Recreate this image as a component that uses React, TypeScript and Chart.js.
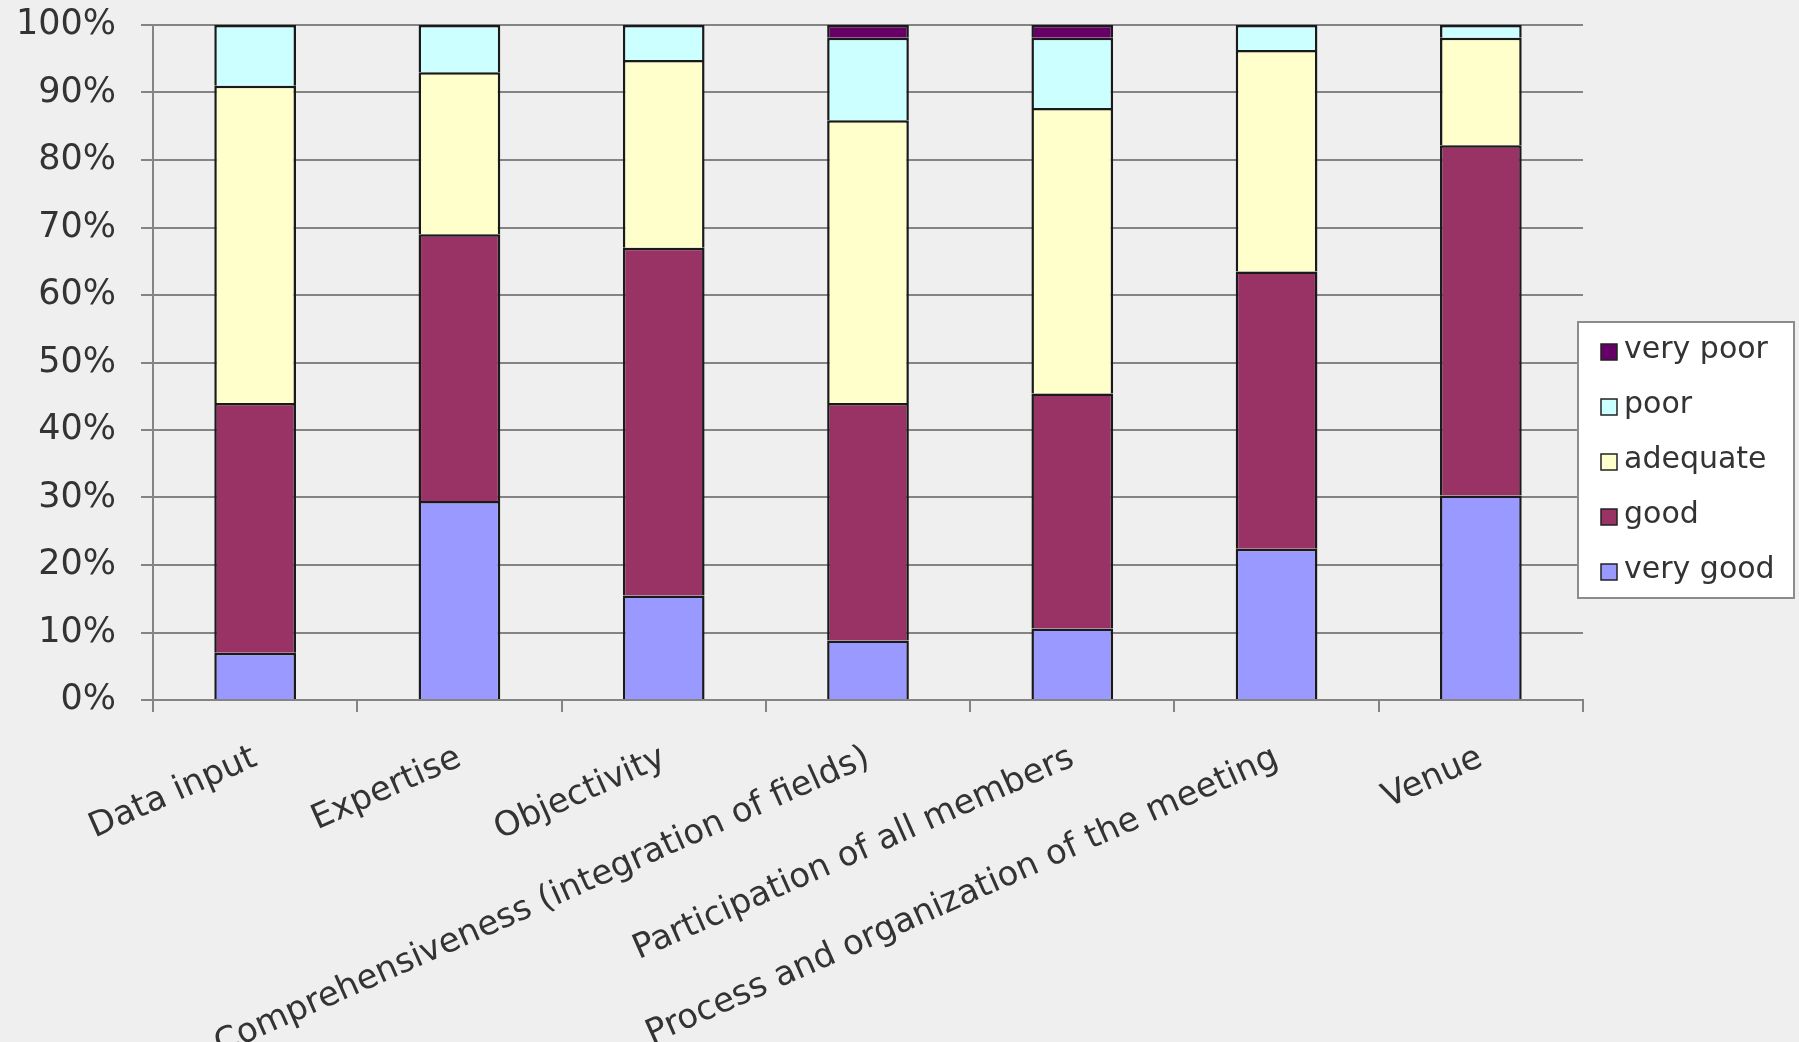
import React, { useEffect, useRef } from "react";
import { Chart, registerables } from "chart.js";

Chart.register(...registerables);

const categories = [
  "Data input",
  "Expertise",
  "Objectivity",
  "Comprehensiveness (integration of fields)",
  "Participation of all members",
  "Process and organization of the meeting",
  "Venue",
];

const seriesLabels = ["very good", "good", "adequate", "poor", "very poor"];
const veryGood = [7, 29.5, 15.5, 8.8, 10.6, 22.4, 30.3];
const good = [37, 39.5, 51.5, 35.2, 34.8, 41.1, 51.9];
const adequate = [47, 24, 27.8, 41.9, 42.3, 32.8, 15.9];
const poor = [9, 7, 5.2, 12.2, 10.4, 3.7, 1.9];
const veryPoor = [0, 0, 0, 1.9, 1.9, 0, 0];
const seriesColors = ["#9999FF", "#993366", "#FFFFCC", "#CCFFFF", "#660066"];

const FONT = '"DejaVu Sans", Verdana, sans-serif';
const TEXT = "#333333";
const GRID = "#848484";

const boxLegend = {
  id: "boxLegend",
  afterDraw(chart: any) {
    const ctx = chart.ctx;
    const ds = chart.data.datasets.slice().reverse();
    const bx = 1578, by = 322, bw = 216, bh = 276;
    ctx.save();
    ctx.fillStyle = "#ffffff";
    ctx.fillRect(bx, by, bw, bh);
    ctx.strokeStyle = "#8c8c8c";
    ctx.lineWidth = 2;
    ctx.strokeRect(bx, by, bw, bh);
    ctx.font = `30px ${FONT}`;
    ctx.textBaseline = "middle";
    ds.forEach((d: any, i: number) => {
      const cy = 352 + i * 55;
      ctx.fillStyle = d.backgroundColor;
      ctx.fillRect(1601, cy - 8, 16, 16);
      ctx.strokeStyle = "#222";
      ctx.lineWidth = 1.5;
      ctx.strokeRect(1601, cy - 8, 16, 16);
      ctx.fillStyle = TEXT;
      ctx.fillText(d.label, 1624, cy - 2);
    });
    ctx.restore();
  },
};

export default function App() {
  const ref = useRef<HTMLCanvasElement>(null);
  useEffect(() => {
    document.body.style.margin = "0";
    document.body.style.background = "#efefef";
    const values = [veryGood, good, adequate, poor, veryPoor];
    const chart = new Chart(ref.current!, {
      type: "bar",
      data: {
        labels: categories,
        datasets: values.map((v, i) => ({
          label: seriesLabels[i],
          data: v,
          backgroundColor: seriesColors[i],
          borderColor: "#1a1a1a",
          borderWidth: 2.5,
          categoryPercentage: 0.8,
          barPercentage: 0.5,
        })),
      },
      options: {
        responsive: false,
        animation: false,
        layout: { padding: { left: 16, right: 216, top: 25, bottom: 0 } },
        plugins: { legend: { display: false }, tooltip: { enabled: false } },
        scales: {
          x: {
            stacked: true,
            afterFit: (s: any) => { s.height = 342; },
            grid: { drawOnChartArea: false, drawTicks: true, tickLength: 12, color: GRID, lineWidth: 2, offset: true },
            border: { display: true, color: GRID, width: 2 },
            ticks: { minRotation: 24, maxRotation: 24, padding: 26, color: TEXT, font: { family: FONT, size: 34 }, autoSkip: false },
          },
          y: {
            stacked: true,
            min: 0,
            max: 100,
            afterFit: (s: any) => { s.width = 137; s.paddingTop = 0; s.paddingBottom = 0; },
            grid: { color: GRID, lineWidth: 2, tickLength: 12, drawTicks: true },
            border: { display: true, color: GRID, width: 2 },
            ticks: { stepSize: 10, padding: 25, color: TEXT, font: { family: FONT, size: 35 }, callback: (v: any) => v + "%" },
          },
        },
      },
      plugins: [boxLegend],
    });
    return () => chart.destroy();
  }, []);
  return (
    <div style={{ width: 1799, height: 1042, background: "#efefef" }}>
      <canvas ref={ref} width={1799} height={1042} style={{ display: "block" }} />
    </div>
  );
}
